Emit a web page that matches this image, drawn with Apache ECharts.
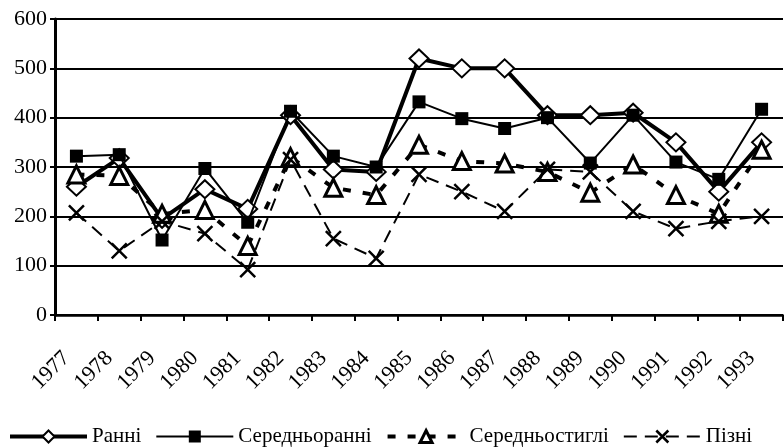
<!DOCTYPE html>
<html>
<head>
<meta charset="utf-8">
<script src="https://cdn.jsdelivr.net/npm/echarts@6/dist/echarts.min.js"></script>
<style>html,body{margin:0;padding:0;background:#fff}#c{width:784px;height:448px}</style>
</head>
<body>
<div id="c"></div>
<script>
const years = ['1977','1978','1979','1980','1981','1982','1983','1984','1985','1986','1987','1988','1989','1990','1991','1992','1993'];
const yTicks = [0, 100, 200, 300, 400, 500, 600];
const rann = [260, 318, 195, 255, 215, 405, 295, 290, 520, 500, 500, 405, 405, 410, 350, 250, 350];
const serRann = [322, 325, 152, 297, 188, 413, 322, 300, 432, 398, 378, 400, 308, 405, 310, 275, 417];
const serStyg = [285, 282, 205, 213, 140, 320, 258, 243, 345, 312, 307, 290, 248, 305, 243, 205, 335];
const pizni = [207, 130, 190, 165, 92, 315, 155, 115, 285, 250, 210, 295, 290, 210, 175, 190, 200];
const names = ['Ранні', 'Середньоранні', 'Середньостиглі', 'Пізні'];

const FONT = 'Tinos';
const chart = echarts.init(document.getElementById('c'), null, {renderer: 'canvas'});
const crossPath = 'path://M0,0L10,10M10,0L0,10';
chart.setOption({
  animation: false,
  backgroundColor: '#fff',
  textStyle: {fontFamily: FONT, color: '#000'},
  grid: {left: 55, right: 1, top: 19, bottom: 133, containLabel: false},
  legend: {
    left: 8, bottom: 1, padding: 0,
    itemWidth: 77, itemHeight: 15, itemGap: 14,
    lineStyle: {width: 'inherit'},
    itemStyle: {borderWidth: 'inherit'},
    textStyle: {fontFamily: FONT, fontSize: 21, color: '#000'},
    data: names
  },
  xAxis: {
    type: 'category', data: years, boundaryGap: true,
    axisLine: {lineStyle: {color: '#000', width: 2.5}},
    axisTick: {show: true, interval: 0, length: 6, lineStyle: {color: '#000', width: 2}},
    axisLabel: {interval: 0, rotate: 45, margin: 30, fontFamily: FONT, fontSize: 22, color: '#000', padding: [0, 14, 0, 0]},
    splitLine: {show: false}
  },
  yAxis: {
    type: 'value', min: yTicks[0], max: yTicks[yTicks.length - 1], interval: 100,
    axisLine: {show: true, lineStyle: {color: '#000', width: 3}},
    axisTick: {show: true, length: 5, inside: false, lineStyle: {color: '#000', width: 2}},
    axisLabel: {margin: 8, fontFamily: FONT, fontSize: 22, color: '#000'},
    splitLine: {show: true, lineStyle: {color: '#000', width: 2}}
  },
  series: [
    {
      name: names[0], type: 'line', data: rann,
      symbol: 'diamond', symbolSize: [19, 18],
      itemStyle: {color: '#fff', borderColor: '#000', borderWidth: 2},
      lineStyle: {color: '#000', width: 4}, z: 2
    },
    {
      name: names[1], type: 'line', data: serRann,
      symbol: 'rect', symbolSize: 13,
      itemStyle: {color: '#000', borderColor: '#000', borderWidth: 0},
      lineStyle: {color: '#000', width: 2}, z: 3
    },
    {
      name: names[2], type: 'line', data: serStyg,
      symbol: 'triangle', symbolSize: [17, 17],
      itemStyle: {color: '#fff', borderColor: '#000', borderWidth: 3},
      lineStyle: {color: '#000', width: 4, type: [8, 12]}, z: 4
    },
    {
      name: names[3], type: 'line', data: pizni,
      symbol: crossPath, symbolSize: 15,
      itemStyle: {color: '#000', borderColor: '#000', borderWidth: 2.5},
      lineStyle: {color: '#000', width: 2, type: [13, 8]}, z: 5
    }
  ]
});
</script>
</body>
</html>
